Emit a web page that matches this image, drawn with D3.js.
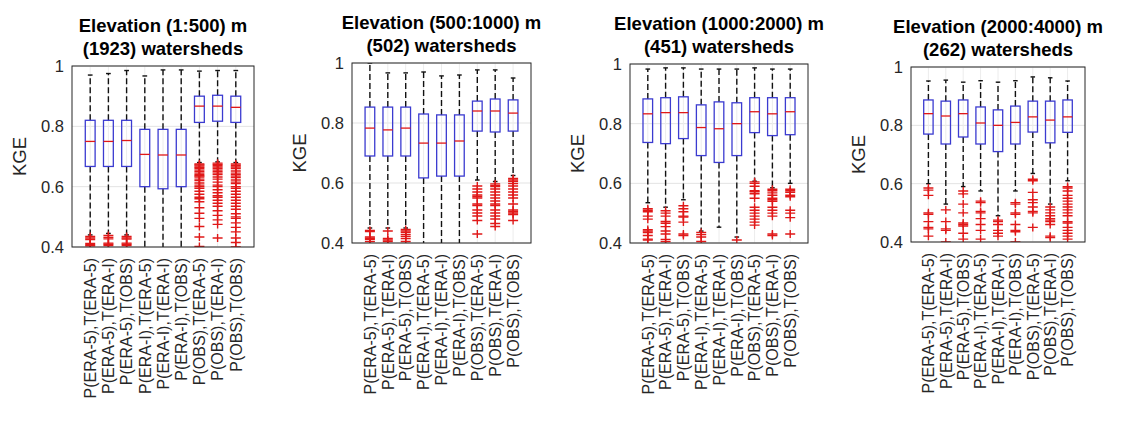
<!DOCTYPE html>
<html>
<head>
<meta charset="utf-8">
<script src="https://cdn.jsdelivr.net/npm/d3@7"></script>
<style>
  body { margin: 0; background: #fff; }
  text { font-family: "Liberation Sans", Arial, sans-serif; }
</style>
</head>
<body>
<script>
var categories = ["P(ERA-5),T(ERA-5)", "P(ERA-5),T(ERA-I)", "P(ERA-5),T(OBS)",
                  "P(ERA-I),T(ERA-5)", "P(ERA-I),T(ERA-I)", "P(ERA-I),T(OBS)",
                  "P(OBS),T(ERA-5)", "P(OBS),T(ERA-I)", "P(OBS),T(OBS)"];
var titles = ["Elevation (1:500) m", "Elevation (500:1000) m", "Elevation (1000:2000) m", "Elevation (2000:4000) m"];
var counts = [1923, 502, 451, 262];
var yTicks = [0.4, 0.6, 0.8, 1];

// per panel: upper whisker, q3, median, q1, lower whisker
var hi = [
  [0.970, 0.975, 0.985, 0.967, 0.987, 0.987, 0.983, 0.985, 0.985],
  [1.000, 0.967, 0.967, 0.970, 0.957, 0.960, 0.977, 0.977, 0.950],
  [0.983, 0.987, 0.987, 0.983, 0.983, 0.983, 0.987, 0.983, 0.983],
  [0.952, 0.955, 0.948, 0.953, 0.948, 0.953, 0.966, 0.963, 0.952]
];
var q3 = [
  [0.820, 0.820, 0.820, 0.790, 0.790, 0.790, 0.900, 0.903, 0.900],
  [0.853, 0.853, 0.853, 0.830, 0.827, 0.827, 0.873, 0.880, 0.877],
  [0.883, 0.887, 0.890, 0.863, 0.873, 0.870, 0.887, 0.887, 0.887],
  [0.887, 0.883, 0.887, 0.863, 0.853, 0.866, 0.883, 0.883, 0.887]
];
var med = [
  [0.750, 0.750, 0.753, 0.707, 0.705, 0.705, 0.867, 0.867, 0.863],
  [0.783, 0.777, 0.783, 0.733, 0.733, 0.740, 0.840, 0.840, 0.833],
  [0.833, 0.837, 0.837, 0.787, 0.783, 0.800, 0.840, 0.833, 0.840],
  [0.840, 0.832, 0.840, 0.808, 0.800, 0.810, 0.829, 0.818, 0.829]
];
var q1 = [
  [0.667, 0.667, 0.667, 0.600, 0.593, 0.600, 0.813, 0.817, 0.813],
  [0.690, 0.690, 0.690, 0.617, 0.623, 0.623, 0.773, 0.770, 0.773],
  [0.737, 0.733, 0.750, 0.693, 0.670, 0.693, 0.770, 0.760, 0.763],
  [0.770, 0.736, 0.760, 0.736, 0.710, 0.736, 0.777, 0.740, 0.776]
];
var lo = [
  [0.440, 0.445, 0.440, 0.350, 0.350, 0.350, 0.680, 0.682, 0.680],
  [0.450, 0.450, 0.450, 0.350, 0.350, 0.350, 0.610, 0.605, 0.625],
  [0.535, 0.520, 0.545, 0.440, 0.453, 0.420, 0.607, 0.585, 0.600],
  [0.600, 0.530, 0.590, 0.575, 0.490, 0.575, 0.635, 0.530, 0.610]
];
var outliers = [
  [
    [0.435, 0.43, 0.425, 0.412, 0.408, 0.404],
    [0.438, 0.432, 0.427, 0.413, 0.409, 0.405],
    [0.435, 0.43, 0.426, 0.413, 0.409, 0.405],
    [], [], [],
    [0.675, 0.672, 0.668, 0.664, 0.66, 0.655, 0.65, 0.645, 0.64, 0.636, 0.632, 0.625, 0.62, 0.612, 0.605, 0.6, 0.595, 0.585, 0.575, 0.565, 0.56, 0.55, 0.53, 0.512, 0.495, 0.468, 0.433, 0.402],
    [0.678, 0.674, 0.67, 0.665, 0.66, 0.655, 0.65, 0.645, 0.64, 0.632, 0.625, 0.615, 0.605, 0.6, 0.59, 0.58, 0.57, 0.565, 0.555, 0.545, 0.535, 0.52, 0.505, 0.49, 0.475, 0.43],
    [0.675, 0.67, 0.665, 0.66, 0.652, 0.645, 0.64, 0.635, 0.63, 0.622, 0.615, 0.61, 0.6, 0.595, 0.585, 0.575, 0.565, 0.555, 0.545, 0.535, 0.525, 0.51, 0.5, 0.495, 0.48, 0.465, 0.45, 0.43, 0.415, 0.40]
  ],
  [
    [0.442, 0.438, 0.42, 0.416, 0.412, 0.405],
    [0.44, 0.415, 0.41, 0.405],
    [0.445, 0.44, 0.435, 0.428, 0.422, 0.415, 0.405],
    [], [], [],
    [0.59, 0.58, 0.57, 0.56, 0.555, 0.55, 0.53, 0.525, 0.51, 0.5, 0.49, 0.475, 0.43],
    [0.597, 0.592, 0.588, 0.58, 0.57, 0.56, 0.55, 0.54, 0.53, 0.525, 0.51, 0.5, 0.49, 0.48, 0.465, 0.455],
    [0.615, 0.61, 0.605, 0.598, 0.59, 0.58, 0.57, 0.56, 0.55, 0.53, 0.51, 0.505, 0.5, 0.495, 0.475]
  ],
  [
    [0.515, 0.51, 0.505, 0.49, 0.48, 0.445, 0.44, 0.435, 0.425, 0.413, 0.41],
    [0.508, 0.5, 0.49, 0.472, 0.466, 0.455, 0.44, 0.43, 0.412, 0.405],
    [0.525, 0.515, 0.505, 0.49, 0.487, 0.47, 0.43, 0.425],
    [0.435, 0.428, 0.42, 0.405],
    [],
    [0.41],
    [0.605, 0.6, 0.59, 0.575, 0.572, 0.565, 0.55, 0.52, 0.51, 0.5, 0.49, 0.48, 0.47, 0.46],
    [0.58, 0.575, 0.568, 0.56, 0.55, 0.545, 0.54, 0.52, 0.51, 0.5, 0.49, 0.43, 0.425],
    [0.58, 0.575, 0.57, 0.56, 0.555, 0.51, 0.5, 0.485, 0.43]
  ],
  [
    [0.585, 0.578, 0.56, 0.5, 0.495, 0.47, 0.45, 0.445, 0.42],
    [0.51, 0.47, 0.445, 0.44, 0.40],
    [0.575, 0.565, 0.53, 0.5, 0.465, 0.46, 0.455, 0.43, 0.41],
    [0.54, 0.535, 0.505, 0.5, 0.48, 0.46, 0.44, 0.41],
    [0.475, 0.47, 0.46, 0.44, 0.43, 0.42],
    [0.535, 0.53, 0.5, 0.495, 0.46, 0.44, 0.435, 0.40],
    [0.615, 0.61, 0.57, 0.545, 0.535, 0.52, 0.505, 0.5, 0.45],
    [0.52, 0.51, 0.5, 0.49, 0.48, 0.475, 0.47, 0.46, 0.42, 0.415],
    [0.59, 0.585, 0.575, 0.56, 0.55, 0.54, 0.53, 0.52, 0.51, 0.5, 0.49, 0.47, 0.465, 0.45, 0.44, 0.43, 0.42, 0.41]
  ]
];

// plot frames of the four axes
var frames = [
  {x0: 72,  x1: 254,  y0: 66, y1: 247},
  {x0: 352, x1: 531,  y0: 63, y1: 243},
  {x0: 630, x1: 808,  y0: 64, y1: 243},
  {x0: 911, x1: 1085, y0: 67, y1: 242}
];

var svg = d3.select("body").append("svg")
  .attr("width", 1129).attr("height", 421);

var ink = "#262626";

frames.forEach(function(f, p) {
  var x = d3.scaleLinear().domain([0, 10]).range([f.x0, f.x1]);
  var y = d3.scaleLinear().domain([0.4, 1]).range([f.y1, f.y0]);
  var g = svg.append("g");

  g.append("clipPath").attr("id", "clip" + p)
    .append("rect")
    .attr("x", f.x0).attr("y", f.y0)
    .attr("width", f.x1 - f.x0).attr("height", f.y1 - f.y0);

  // grid
  g.selectAll("line.gy").data(yTicks).enter().append("line")
    .attr("x1", f.x0).attr("x2", f.x1)
    .attr("y1", function(d) { return y(d); }).attr("y2", function(d) { return y(d); })
    .style("stroke", "#e3e3e3");
  g.selectAll("line.gx").data(categories).enter().append("line")
    .attr("x1", function(d, i) { return x(i + 1); }).attr("x2", function(d, i) { return x(i + 1); })
    .attr("y1", f.y0).attr("y2", f.y1)
    .style("stroke", "#ececec");

  var plot = g.append("g").attr("clip-path", "url(#clip" + p + ")");
  var bw = 0.27, cw = 0.13;

  categories.forEach(function(c, i) {
    var cx = x(i + 1);
    var b = plot.append("g");
    // whiskers
    b.append("line")
      .attr("x1", cx).attr("x2", cx)
      .attr("y1", y(q3[p][i])).attr("y2", y(hi[p][i]))
      .style("stroke", "#111").style("stroke-width", 1.4).style("stroke-dasharray", "6,3");
    b.append("line")
      .attr("x1", cx).attr("x2", cx)
      .attr("y1", y(q1[p][i])).attr("y2", y(lo[p][i]))
      .style("stroke", "#111").style("stroke-width", 1.4).style("stroke-dasharray", "6,3");
    // caps
    [hi[p][i], lo[p][i]].forEach(function(v) {
      b.append("line")
        .attr("x1", x(i + 1 - cw)).attr("x2", x(i + 1 + cw))
        .attr("y1", y(v)).attr("y2", y(v))
        .style("stroke", "#111").style("stroke-width", 1.4);
    });
    // box
    b.append("rect")
      .attr("x", x(i + 1 - bw)).attr("width", x(i + 1 + bw) - x(i + 1 - bw))
      .attr("y", y(q3[p][i])).attr("height", y(q1[p][i]) - y(q3[p][i]))
      .style("fill", "none").style("stroke", "#3b3bd0").style("stroke-width", 1.3);
    // median
    b.append("line")
      .attr("x1", x(i + 1 - bw)).attr("x2", x(i + 1 + bw))
      .attr("y1", y(med[p][i])).attr("y2", y(med[p][i]))
      .style("stroke", "#e01818").style("stroke-width", 1.3);
    // outliers
    b.selectAll("path").data(outliers[p][i]).enter().append("path")
      .attr("transform", function(d) { return "translate(" + cx + "," + y(d) + ")"; })
      .attr("d", "M-5,0H5M0,-4V4")
      .style("stroke", "#e01818").style("stroke-width", 1.4).style("fill", "none");
  });

  // frame
  g.append("rect")
    .attr("x", f.x0).attr("y", f.y0)
    .attr("width", f.x1 - f.x0).attr("height", f.y1 - f.y0)
    .style("fill", "none").style("stroke", ink).style("stroke-width", 1);

  // y tick labels
  g.selectAll("text.yt").data(yTicks).enter().append("text")
    .attr("x", f.x0 - 8).attr("y", function(d) { return y(d); })
    .attr("dy", "0.36em").attr("text-anchor", "end")
    .style("font-size", "16.5px").style("fill", ink)
    .text(function(d) { return d3.format("")(d); });

  // x tick labels
  g.selectAll("text.xt").data(categories).enter().append("text")
    .attr("transform", function(d, i) { return "translate(" + x(i + 1) + "," + (f.y1 + 11) + ") rotate(-90)"; })
    .attr("dy", "0.36em").attr("text-anchor", "end")
    .style("font-size", "16px").style("fill", ink)
    .text(function(d) { return d; });

  // y label
  g.append("text")
    .attr("transform", "translate(" + (f.x0 - 46) + "," + (f.y0 + f.y1) / 2 + ") rotate(-90)")
    .attr("text-anchor", "middle")
    .style("font-size", "18.5px").style("fill", ink)
    .text("KGE");

  // title
  var cxT = (f.x0 + f.x1) / 2;
  g.append("text").attr("x", cxT).attr("y", f.y0 - 34)
    .attr("text-anchor", "middle")
    .style("font-size", "18.5px").style("font-weight", "bold").style("fill", "#000")
    .text(titles[p]);
  g.append("text").attr("x", cxT).attr("y", f.y0 - 11)
    .attr("text-anchor", "middle")
    .style("font-size", "18.5px").style("font-weight", "bold").style("fill", "#000")
    .text("(" + counts[p] + ") watersheds");
});
</script>
</body>
</html>
